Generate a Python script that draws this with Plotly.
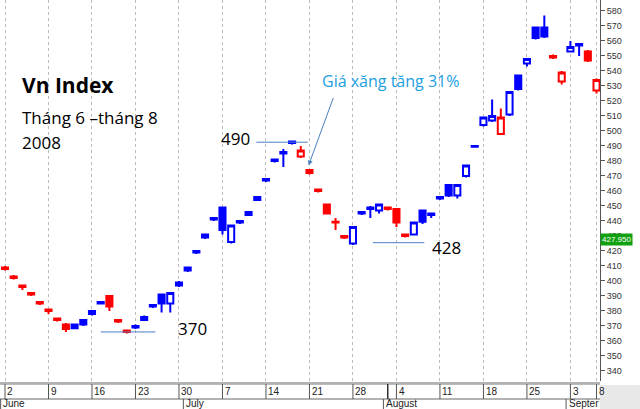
import plotly.graph_objects as go

opens  = [409,403,397,392,386,381,375,371,371,374,380,386,390,374,367,370,374,384,391,385,397,407,420,429,442,449,426,440,444,454,468,481,486,493,483,474,461,451,439.5,430,425,446,449,447,449,448,431,431,447,445,456,464,457,470,490,504,507,498,511,537,545,569,569,550,533,553,558,553,527]
highs  = [410,404,397,392,386,381,375,372,371,374,380,386,390,374,367,371,377,384,391,392,400,409,420,431,442,449,437,440,446,456,468,481,488,493,490,474,461,451,442,430,436,446,450,451,449,448,431,439,447,445,456,464,464,477,490,509,521,515,526,537,548,569,577,551,540,560,558,554,535]
lows   = [407,401,394,390,384,378,373,366,368,370,377,385,380,372,365,368,374,382,379,379,396,406,418,428,440,431,425,438,444,454,466,479,476,491,482,471,459,445,434,428,424,444,442,445,447,436,429,431,438,442,454,456,455,469,489,503,506,498,510,527,543,561,562,548,531,553,550,546,525]
closes = [408,402,396,391,385,380,374,368,368.5,371,378,385,383,373,366,369,376,383,385,392,399,409,419,431,441,434,437,439,446,456,467,480,485,492,487,472,460,445,439,429,436,445,448,451,448,439,430,439,439.5,444,455,457,464,477,489.5,509,510,509,526,528,548,562,563,549,539,556,557,547,534]
colors = list("rrrrrrrr" "bbbb" "rrr" "bbbbbbbbbbbbbbbbbbb" "rrrrrr" "bbbb" "rrr" "bbbbbbbbbb" "r" "bbbbb" "rr" "bb" "rr")

week_idx = [0,5,10,15,20,25,30,35,40,45,50,55,60,65,68]
week_lbl = ["2","9","16","23","30","7","14","21","28","4","11","18","25","3","8"]
months = [("June",0),("July",21),("August",44),("Septer",65)]
last_price = 427.950

X0 = -0.575; X1 = 68.4
x = list(range(len(opens)))
fig = go.Figure()
for col, c in [("b", "#0000ff"), ("r", "#ff0000")]:
    idx = [i for i in x if colors[i] == col]
    fig.add_trace(go.Candlestick(
        x=idx, open=[opens[i] for i in idx], high=[highs[i] for i in idx],
        low=[lows[i] for i in idx], close=[closes[i] for i in idx],
        increasing=dict(line=dict(color=c, width=2), fillcolor="white"),
        decreasing=dict(line=dict(color=c, width=2), fillcolor=c),
        whiskerwidth=0, showlegend=False, hoverinfo="skip"))

fig.update_layout(
    width=640, height=409, margin=dict(l=0, r=40, t=0, b=28),
    paper_bgcolor="white", plot_bgcolor="white", boxgap=0, boxmode="overlay",
    font=dict(family="Liberation Sans, Arial", size=9, color="#333"),
    xaxis=dict(range=[X0, X1], rangeslider=dict(visible=False), showticklabels=False,
               tickvals=week_idx, showgrid=True, gridcolor="#bbbbbb", griddash="dot",
               gridwidth=1, zeroline=False, ticks="", automargin=False),
    yaxis=dict(side="right", range=[333.3, 587.3], dtick=10, tick0=340, showgrid=False,
               showline=True, linecolor="#555", ticks="outside", ticklen=4, tickcolor="#555",
               tickfont=dict(size=9, color="#333"), zeroline=False, automargin=False),
)

def py(px):
    return (381 - px) / 381

shapes = []
for yy in [383, 384.5, 399]:
    shapes.append(dict(type="line", xref="paper", yref="paper", x0=0, x1=1, y0=py(yy), y1=py(yy),
                       line=dict(color="#666" if yy != 384.5 else "#bbb", width=1)))
for i in week_idx:
    shapes.append(dict(type="line", xref="x", yref="paper", x0=i, x1=i,
                       y0=py(384), y1=py(399), line=dict(color="#555", width=1)))
for name, i in months:
    shapes.append(dict(type="line", xref="x", yref="paper", x0=i - 0.5, x1=i - 0.5,
                       y0=py(399), y1=py(409), line=dict(color="#555", width=1)))
shapes.append(dict(type="line", xref="x", yref="paper", x0=44, x1=44, y0=py(384), y1=py(399),
                   line=dict(color="#333", width=1.5)))
shapes.append(dict(type="rect", xref="paper", yref="paper", x0=1.0, x1=1.07, y0=py(385), y1=py(409),
                   fillcolor="#e8e8e8", line=dict(width=0)))
shapes.append(dict(type="line", xref="x", yref="y", x0=11, x1=17.3, y0=366, y1=366, line=dict(color="#4a7fc1", width=1)))
shapes.append(dict(type="line", xref="x", yref="y", x0=28.9, x1=34.8, y0=492.5, y1=492.5, line=dict(color="#4a7fc1", width=1)))
shapes.append(dict(type="line", xref="x", yref="y", x0=42.3, x1=48.2, y0=425.5, y1=425.5, line=dict(color="#4a7fc1", width=1)))
fig.update_layout(shapes=shapes)

ann = []
for i, t in zip(week_idx, week_lbl):
    ann.append(dict(x=i + 0.05, y=py(391.5), xref="x", yref="paper", text=t, showarrow=False,
                    xanchor="left", yanchor="middle", font=dict(size=10, color="#222")))
for name, i in months:
    ann.append(dict(x=i - 0.45, y=py(403.5), xref="x", yref="paper", text=name, showarrow=False,
                    xanchor="left", yanchor="middle", font=dict(size=10, color="#222")))
ann += [
    dict(x=20/600, y=py(85), xref="paper", yref="paper", text="<b>Vn Index</b>", showarrow=False,
         xanchor="left", yanchor="middle", font=dict(family="Open Sans", size=21, color="black")),
    dict(x=20/600, y=py(118), xref="paper", yref="paper", text="Tháng 6 –tháng 8", showarrow=False,
         xanchor="left", yanchor="middle", font=dict(family="Open Sans", size=17, color="black")),
    dict(x=20/600, y=py(142), xref="paper", yref="paper", text="2008", showarrow=False,
         xanchor="left", yanchor="middle", font=dict(family="Open Sans", size=17, color="black")),
    dict(x=19.7, y=368, xref="x", yref="y", text="370", showarrow=False, xanchor="left",
         yanchor="middle", font=dict(family="Open Sans", size=17, color="black")),
    dict(x=28.4, y=495, xref="x", yref="y", text="490", showarrow=False, xanchor="right",
         yanchor="middle", font=dict(family="Open Sans", size=17, color="black")),
    dict(x=48.8, y=422, xref="x", yref="y", text="428", showarrow=False, xanchor="left",
         yanchor="middle", font=dict(family="Open Sans", size=17, color="black")),
    dict(x=36.2, y=533, xref="x", yref="y", text="Giá xăng tăng 31%", showarrow=False,
         xanchor="left", yanchor="middle", font=dict(family="Open Sans", size=16, color="#1aa0e0")),
    dict(x=34.9, y=477, ax=37.8, ay=523, xref="x", yref="y", axref="x", ayref="y", text="",
         showarrow=True, arrowhead=2, arrowsize=1, arrowwidth=1, arrowcolor="#4a7fc1"),
    dict(x=1.0, y=last_price, xref="paper", yref="y", text="427.950", showarrow=False,
         xanchor="left", yanchor="middle", bgcolor="#10a010", font=dict(size=8, color="white"),
         borderpad=1),
]
fig.update_layout(annotations=ann)
fig.write_html("out.html", config={"displayModeBar": False},
               post_script="document.body.style.margin='0';document.body.style.overflow='hidden';")
